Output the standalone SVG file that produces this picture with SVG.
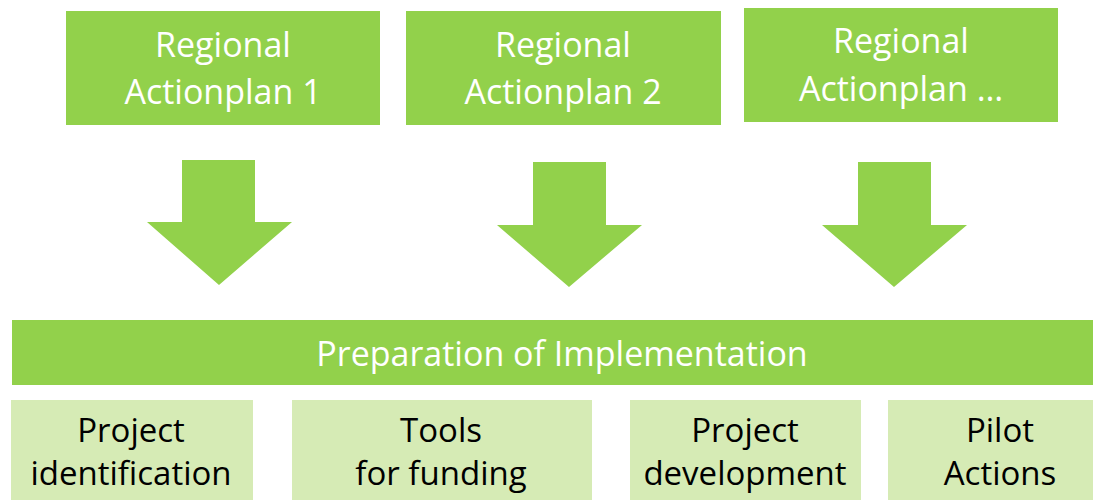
<svg xmlns="http://www.w3.org/2000/svg" width="1095" height="500" viewBox="0 0 1095 500">
<style>
.dark{fill:#92D14B}
.light{fill:#D6EBB5}
.wt{font-family:"Open Sans","Liberation Sans",sans-serif;font-size:34px;fill:#FFFFFF;text-anchor:middle}
.bt{font-family:"Open Sans","Liberation Sans",sans-serif;font-size:33px;fill:#000000;text-anchor:middle}
</style>
<rect width="1095" height="500" fill="#FFFFFF"/>
<g id="plan1">
<rect class="dark" x="66" y="11" width="314" height="114"/>
<text class="wt" x="223" y="57">Regional</text>
<text class="wt" x="223" y="104">Actionplan 1</text>
</g>
<g id="plan2">
<rect class="dark" x="406" y="11" width="315" height="114"/>
<text class="wt" x="563" y="57">Regional</text>
<text class="wt" x="563" y="104">Actionplan 2</text>
</g>
<g id="plan3">
<rect class="dark" x="744" y="8" width="314" height="114"/>
<text class="wt" x="901" y="53">Regional</text>
<text class="wt" x="901" y="101">Actionplan …</text>
</g>
<g id="connectors">
<polygon class="dark" points="182,160 255,160 255,222 292,222 219,285 147,222 182,222"/>
<polygon class="dark" points="533,162 606,162 606,225 642,225 569,287 497,225 533,225"/>
<polygon class="dark" points="858,162 931,162 931,225 967,225 894,287 822,225 858,225"/>
</g>
<g id="preparation">
<rect class="dark" x="12" y="320" width="1081" height="65"/>
<text class="wt" x="562" y="366">Preparation of Implementation</text>
</g>
<g id="identification">
<rect class="light" x="11" y="400" width="242" height="100"/>
<text class="bt" x="131" y="442">Project</text>
<text class="bt" x="131" y="485">identification</text>
</g>
<g id="funding">
<rect class="light" x="292" y="400" width="300" height="100"/>
<text class="bt" x="441" y="442">Tools</text>
<text class="bt" x="441" y="485">for funding</text>
</g>
<g id="development">
<rect class="light" x="630" y="400" width="231" height="100"/>
<text class="bt" x="745" y="442">Project</text>
<text class="bt" x="745" y="485">development</text>
</g>
<g id="pilot">
<rect class="light" x="888" y="400" width="205" height="100"/>
<text class="bt" x="1000" y="442">Pilot</text>
<text class="bt" x="1000" y="485">Actions</text>
</g>
</svg>
